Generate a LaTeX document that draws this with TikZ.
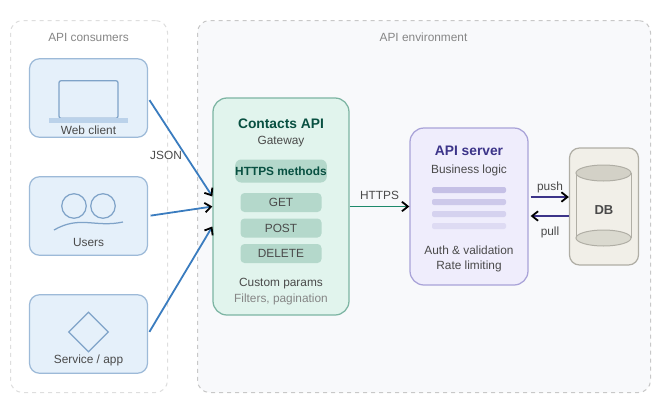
\documentclass[tikz,border=0pt]{standalone}
\usepackage{fontspec}
\setmainfont{Liberation Sans}
\usepackage{xcolor}
\usepackage{tikz}
\usetikzlibrary{calc}
\usetikzlibrary{arrows.meta}
\usetikzlibrary{shapes.geometric}

\definecolor{panelline}{HTML}{DEDEDE}
\definecolor{envfill}{HTML}{F8F9FB}
\definecolor{envline}{HTML}{C8C8C8}
\definecolor{clientfill}{HTML}{E5F0FA}
\definecolor{clientline}{HTML}{9DBAD8}
\definecolor{iconline}{HTML}{7FA3C8}
\definecolor{iconbar}{HTML}{BBD2EA}
\definecolor{gatefill}{HTML}{E1F4ED}
\definecolor{gateline}{HTML}{7DB5A3}
\definecolor{gatebox}{HTML}{B4D8CB}
\definecolor{gatetitle}{HTML}{085041}
\definecolor{apifill}{HTML}{EFEDFC}
\definecolor{apiline}{HTML}{A9A3D8}
\definecolor{apititle}{HTML}{3C3489}
\definecolor{dbfill}{HTML}{F1EFE8}
\definecolor{dbline}{HTML}{B0AEA5}
\definecolor{dbtop}{HTML}{D3D1C7}
\definecolor{wiretext}{HTML}{4A4A4A}
\definecolor{softtext}{HTML}{868686}
\definecolor{wireblue}{HTML}{3A7CBF}
\definecolor{wiregreen}{HTML}{1D8A6B}

\begin{document}
\begin{tikzpicture}
  [
    x=0.2mm, y=-0.2mm,
    every node/.style={inner sep=0pt, text=wiretext, font=\fontsize{6.75}{9}\selectfont},
    panel/.style={draw, dash pattern=on 0.8mm off 0.8mm, line width=0.2mm, rounded corners=2.4mm, anchor=north west},
    client/.style={draw=clientline, fill=clientfill, line width=0.25mm, rounded corners=2mm,
      minimum width=23.6mm, minimum height=15.7mm},
    icon/.style={draw=iconline, line width=0.25mm},
    caption/.style={text=softtext},
    title/.style={font=\fontsize{7.85}{10}\selectfont\bfseries},
    verb/.style={fill=gatebox, rounded corners=0.8mm, minimum width=16.2mm, minimum height=3.8mm},
    bar/.style={fill=apiline, rounded corners=0.4mm, minimum width=14.8mm, minimum height=1.2mm},
    wire/.style={line width=0.36mm, -{Straight Barb[black, length=1.2mm, width=1.9mm]}}
  ]
  \useasboundingbox (0,0) rectangle (670,413);

  % panels
  \node (consumers) at (10,20)  [panel, draw=panelline, fill=white, minimum width=31.4mm, minimum height=74.4mm] {};
  \node (env)       at (197,20) [panel, draw=envline, fill=envfill, minimum width=90.6mm, minimum height=74.4mm] {};
  \node (consumersLabel) at (88.5,37.5) [caption] {API consumers};
  \node (envLabel)       at (423.5,37.5)  [caption] {API environment};

  % clients
  \node (web)     at (88.5,98)  [client] {};
  \node (users)   at (88.5,216) [client] {};
  \node (service) at (88.5,334) [client] {};

  \node (laptop)     at (88.5,99.5) [icon, fill=clientfill, rounded corners=0.4mm, minimum width=11.8mm, minimum height=7.5mm] {};
  \node (laptopBase) at (88.5,120.5) [fill=iconbar, minimum width=15.6mm, minimum height=1mm] {};
  \node (webLabel)   at (88.5,130) {Web client};

  \node (userA) at (74,206)  [icon, circle, minimum size=4.9mm] {};
  \node (userB) at (103,206) [icon, circle, minimum size=4.9mm] {};
  \draw [icon] (54,230) .. controls (80,215) and (95,228) .. (123,222);
  \node (usersLabel) at (88.5,242) {Users};

  \node (serviceIcon)  at (88.5,332) [icon, diamond, minimum size=8mm] {};
  \node (serviceLabel) at (88.5,360) {Service / app};

  % gateway
  \node (gate) at (281,206.5) [draw=gateline, fill=gatefill, line width=0.25mm, rounded corners=2.8mm,
    minimum width=27.2mm, minimum height=43.4mm] {};
  \node (gateTitle)  at (281,123.5) [title, text=gatetitle] {Contacts API};
  \node (gateSub)    at (281,142) {Gateway};
  \node (methods)    at (281,171) [fill=gatebox, rounded corners=1.2mm, minimum width=18mm, minimum height=4.6mm,
    text=gatetitle, font=\fontsize{6.75}{9}\selectfont\bfseries] {HTTPS methods};
  \node (get)        at (281,202.5) [verb] {GET};
  \node (post)       at (281,228)   [verb] {POST};
  \node (delete)     at (281,253.5) [verb] {DELETE};
  \node (gateParams) at (281,283.5) {Custom params};
  \node (gateFilter) at (281,299.5) [caption] {Filters, pagination};

  % server
  \node (api) at (469,206.5) [draw=apiline, fill=apifill, line width=0.25mm, rounded corners=2.8mm,
    minimum width=23.6mm, minimum height=31.4mm] {};
  \node (apiTitle) at (469,151) [title, text=apititle] {API server};
  \node (apiSub)   at (469,170) {Business logic};
  \node (barA) at (469,190) [bar, fill opacity=0.6] {};
  \node (barB) at (469,202) [bar, fill opacity=0.48] {};
  \node (barC) at (469,214) [bar, fill opacity=0.36] {};
  \node (barD) at (469,226) [bar, fill opacity=0.24] {};
  \node (apiAuth) at (469,250.5) {Auth \& validation};
  \node (apiRate) at (469,266) {Rate limiting};

  % database
  \node (db) at (604,206.5) [draw=dbline, fill=dbfill, line width=0.25mm, rounded corners=2mm,
    minimum width=13.8mm, minimum height=23.4mm] {};
  \draw [draw=dbline, line width=0.2mm] (576,173) -- (576,238) (631,173) -- (631,238);
  \node (dbBottom) at (603.5,238) [draw=dbline, fill=dbtop!75!dbfill, line width=0.2mm, ellipse, minimum width=11mm, minimum height=3.2mm] {};
  \node (dbTop)    at (603.5,173) [draw=dbline, fill=dbtop, line width=0.2mm, ellipse, minimum width=11mm, minimum height=3.2mm] {};
  \node (dbLabel)  at (604,210.5) [font=\fontsize{7.4}{9}\selectfont\bfseries] {DB};

  % connectors
  \draw [wire, draw=wireblue, shorten <=0.5mm] (web.east) -- ($(gate.west)+(0,-10)$);
  \draw [wire, draw=wireblue, shorten <=0.5mm] (users.east) -- (gate.west);
  \draw [wire, draw=wireblue, shorten <=0.5mm] (service.east) -- ($(gate.west)+(0,20)$);
  \draw [wire, draw=wiregreen] (gate.east) -- (api.west);
  \draw [wire, draw=apititle, shorten <=0.4mm] ($(api.east)+(0,-9.5)$) -- ($(db.west)+(0,-9.5)$);
  \draw [wire, draw=apititle, shorten >=0.4mm] ($(db.west)+(0,9.5)$) -- ($(api.east)+(0,9.5)$);

  \node (jsonLabel)  at (166,155.5) {JSON};
  \node (httpsLabel) at (379.5,195) {HTTPS};
  \node (pushLabel)  at (550,187.5) {push};
  \node (pullLabel)  at (550,232.5) {pull};
\end{tikzpicture}
\end{document}
